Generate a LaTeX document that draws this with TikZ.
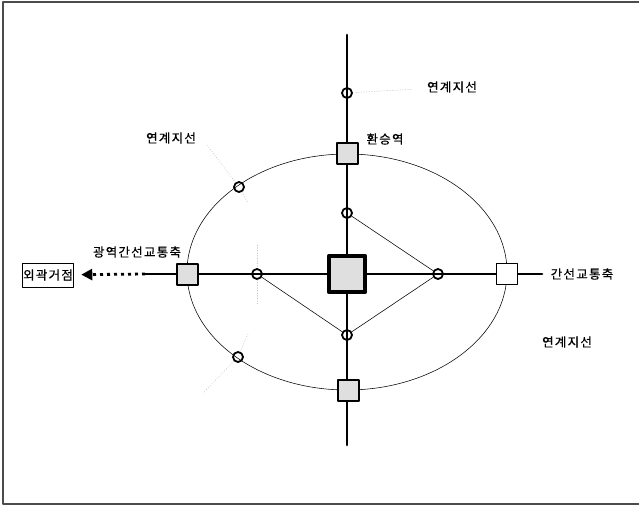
\documentclass[tikz,border=0pt]{standalone}
\usepackage{fontspec}
\newfontfamily\kr[LetterSpace=10, FakeBold=0.6]{Noto Sans CJK KR}
\usetikzlibrary{arrows.meta}

\begin{document}
\begin{tikzpicture}[x=1pt, y=-1pt, line cap=round, line join=round,
  axis/.style={line width=2.8pt},
  link/.style={line width=0.55pt},
  stn/.style={draw, line width=2pt, fill=gray!25, minimum size=21pt, inner sep=0pt},
  stop/.style={draw, circle, line width=1.8pt, minimum size=10pt, inner sep=0pt},
  lbl/.style={font=\kr\fontsize{12.5}{14}\selectfont, inner sep=1pt},
  guide/.style={gray!50, dotted, line width=0.6pt}]

  \useasboundingbox (0,0) rectangle (639,506);
  % frame
  \draw[gray!60!black, line width=1.2pt] (639,2) -- (3,2) -- (3,504) -- (639,504);

  % ends of the axes
  \coordinate (N) at (347,35);
  \coordinate (S) at (347,445);
  \coordinate (W) at (145,274);
  \coordinate (E) at (542,274);

  % ring
  \draw[link] (347,272) ellipse [x radius=160, y radius=118];

  % axes
  \draw[axis] (N) -- (S);
  \draw[axis] (W) -- (E);

  % stops
  \node[stop] (c1) at (347,93) {};
  \node[stop] (dn) at (347,213) {};
  \node[stop] (ds) at (347,335) {};
  \node[stop] (dw) at (257,274) {};
  \node[stop] (de) at (438,274) {};
  \node[stop] (e1) at (239,187) {};
  \node[stop] (e2) at (238,357) {};

  % diamond
  \draw[link] (dn) -- (de) -- (ds) -- (dw) -- cycle;

  % stations
  \node[stn, minimum size=36pt, line width=4.5pt] (hub) at (347,274) {};
  \node[stn] (sn) at (347,153) {};
  \node[stn] (ss) at (348,390) {};
  \node[stn] (sw) at (187,274) {};
  \node[stn, fill=white, line width=1.8pt] (se) at (507,274) {};

  % outer hub
  \node[lbl, draw, line width=0.8pt, inner xsep=1pt, minimum height=24pt] (gate) at (48,275) {외곽거점};
  \draw[line width=2.8pt, line cap=butt, dash pattern=on 3pt off 4pt,
        -{Triangle[length=11pt,width=11pt]}, shorten >=7pt] (W) -- (gate);

  % labels
  \node[lbl] (l1) at (452,87) {연계지선};
  \node[lbl] (l2) at (385,139) {환승역};
  \node[lbl] (l3) at (171,138) {연계지선};
  \node[lbl] (l4) at (137,252) {광역간선교통축};
  \node[lbl] (l5) at (582,274) {간선교통축};
  \node[lbl] (l6) at (567,342) {연계지선};

  % guide lines
  \coordinate (g1) at (207,145);
  \coordinate (g2) at (248,203);
  \coordinate (g3) at (248,334);
  \coordinate (g4) at (203,393);
  \coordinate (g5) at (257,245);
  \coordinate (g6) at (257,305);
  \draw[guide, shorten <=3pt, shorten >=14pt] (c1) -- (l1);
  \draw[guide] (g1) -- (e1) -- (g2);
  \draw[guide] (g3) -- (e2) -- (g4);
  \draw[guide] (g5) -- (dw) -- (g6);
\end{tikzpicture}
\end{document}
